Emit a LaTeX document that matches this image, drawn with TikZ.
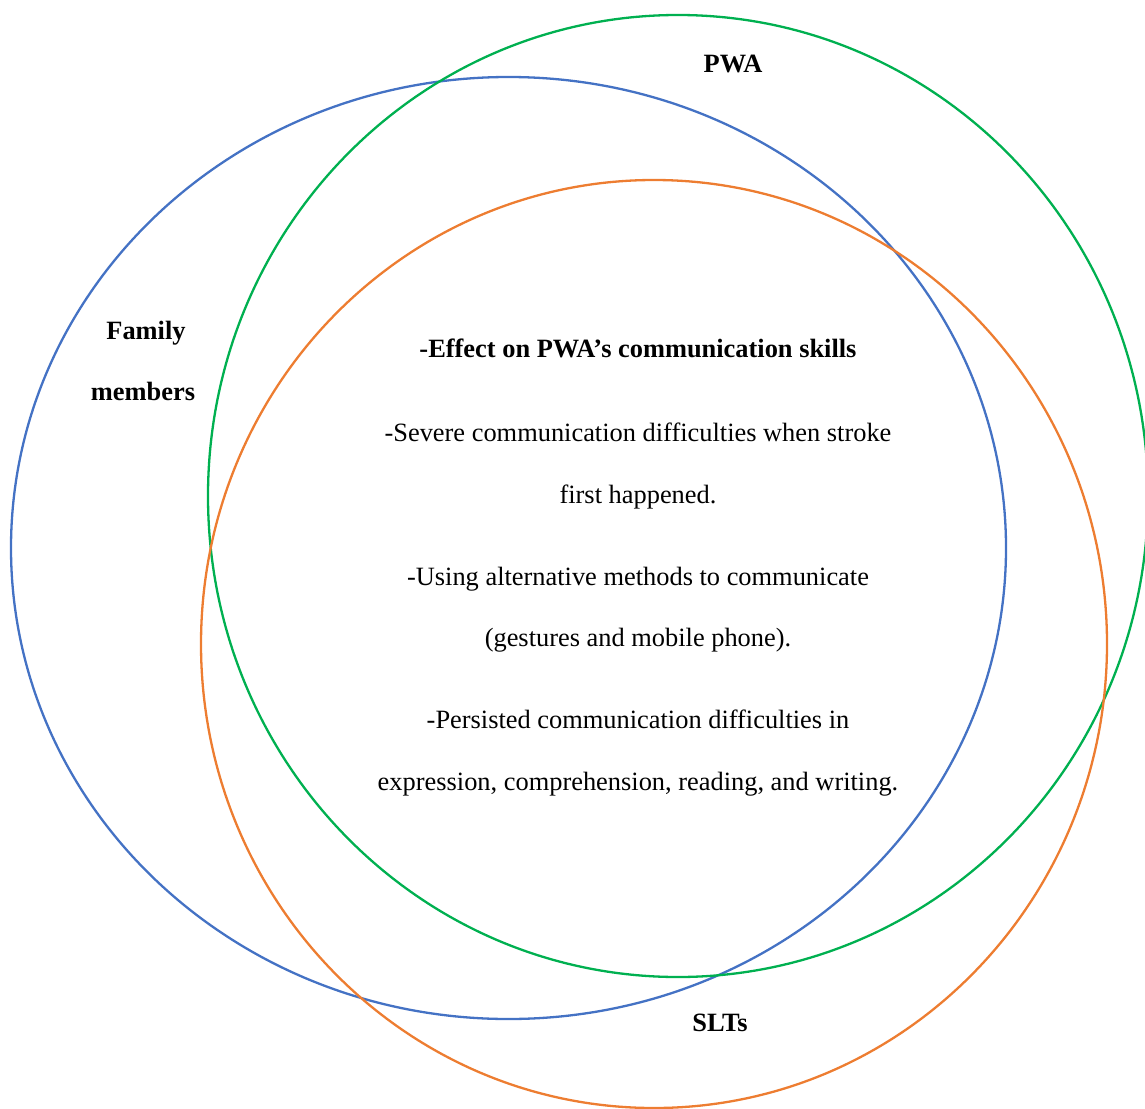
\documentclass[tikz,border=0pt]{standalone}
\usepackage{fontspec}
\setmainfont{Liberation Serif}
\begin{document}
\begin{tikzpicture}[x=1pt,y=-1pt,
  ring/.style={line width=2.3pt},
  txt/.style={anchor=base,inner sep=0pt,font=\fontsize{26.4}{30}\selectfont},
  lbl/.style={anchor=base,inner sep=0pt,font=\fontsize{26.4}{30}\selectfont\bfseries}]
\definecolor{famblue}{HTML}{4472C4}
\definecolor{pwagreen}{HTML}{00B050}
\definecolor{sltorange}{HTML}{ED7D31}
\useasboundingbox (0,0) rectangle (1145,1108);
\begin{scope}
\clip (0,0) rectangle (1145,1108);
\draw[ring,famblue] (508.5,548) ellipse [x radius=497.5,y radius=471];
\draw[ring,pwagreen] (678,496) ellipse [x radius=470,y radius=481];
\draw[ring,sltorange] (654,644) ellipse [x radius=453,y radius=464];
\end{scope}
\node[lbl] (pwa) at (733,72) {PWA};
\node[lbl] (fam1) at (146,339) {Family};
\node[lbl] (fam2) at (143,400) {members};
\node[lbl] (slt) at (720,1031) {SLTs};
\node[lbl] (head) at (638,357) {-Effect on PWA’s communication skills};
\node[txt] (l1) at (638,441) {-Severe communication difficulties when stroke};
\node[txt] (l2) at (638,503) {first happened.};
\node[txt] (l3) at (638,585) {-Using alternative methods to communicate};
\node[txt] (l4) at (638,646) {(gestures and mobile phone).};
\node[txt] (l5) at (638,728) {-Persisted communication difficulties in};
\node[txt] (l6) at (638,790) {expression, comprehension, reading, and writing.};
\end{tikzpicture}
\end{document}
